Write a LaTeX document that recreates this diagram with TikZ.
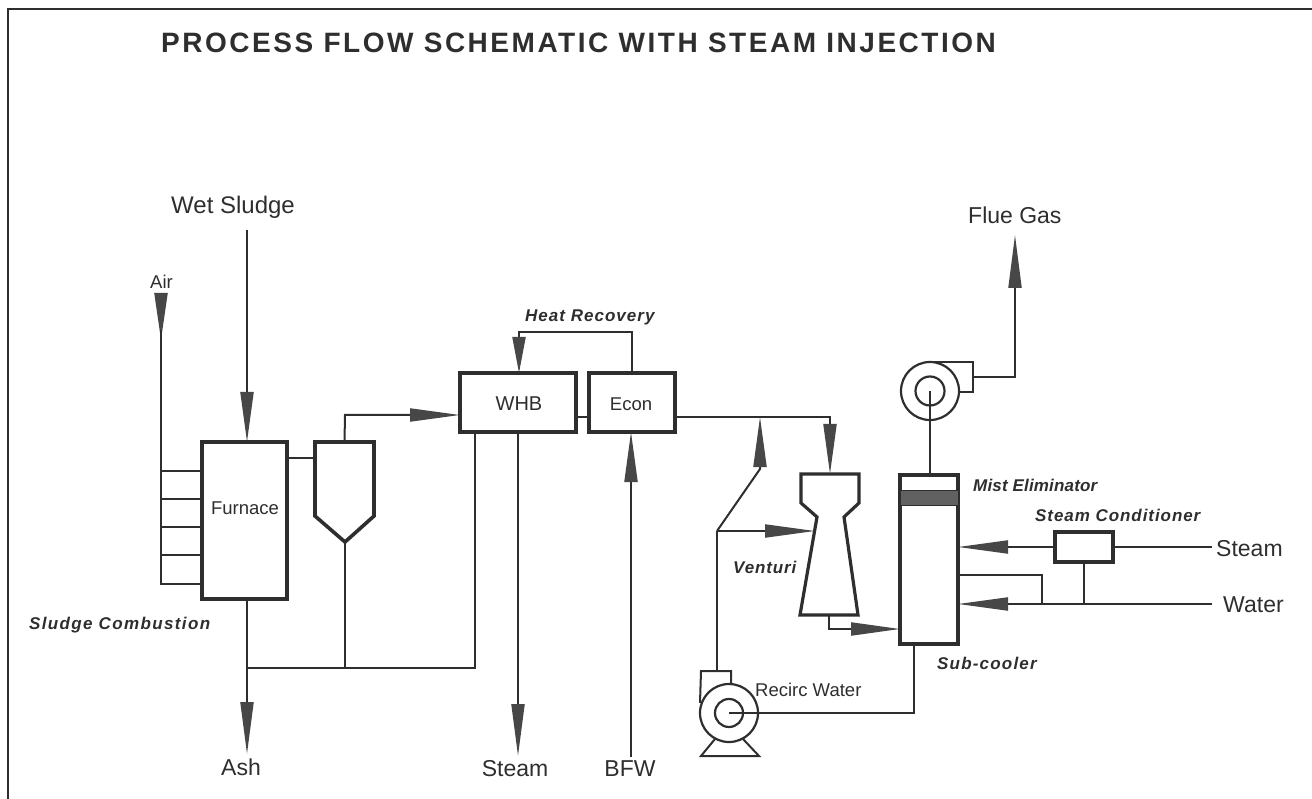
\documentclass[tikz,border=0pt]{standalone}
\usepackage{fontspec}
\setmainfont{Liberation Sans}
\usetikzlibrary{arrows.meta,calc}
\definecolor{ink}{gray}{0.18}
\definecolor{headfill}{gray}{0.28}
\definecolor{bandfill}{gray}{0.38}
\tikzset{
  x=1pt,y=-1pt,
  pipe/.style={draw=ink,line width=2pt,line join=miter},
  vessel/.style={draw=ink,line width=3.6pt,fill=white,line join=miter,outer sep=0pt,inner sep=0pt},
  ring/.style={draw=ink,line width=2.2pt,circle,outer sep=0pt,inner sep=0pt,minimum size=#1},
  head/.style={-{Triangle[length=#1,width=13pt,color=headfill,fill=headfill]}},
  head/.default=50pt,
  biglabel/.style={inner sep=0pt,text=ink,font=\fontsize{23}{25}\selectfont},
  midlabel/.style={inner sep=0pt,text=ink,font=\fontsize{18.5}{20}\selectfont},
  slant/.style={inner sep=0pt,text=ink,font=\fontsize{17}{20}\selectfont\bfseries\itshape\addfontfeature{LetterSpace=#1}},
  slant/.default=3,
}
\begin{document}
\begin{tikzpicture}
\useasboundingbox (0,0) rectangle (1312,799);
% frame
\draw[draw=ink,line width=1.2pt] (8,799) -- (8,9) -- (1312,9);
% title
\node[inner sep=0pt,text=ink,anchor=west,font=\fontsize{28}{30}\selectfont\bfseries\addfontfeature{LetterSpace=9}] (title) at (161,43) {PROCESS FLOW SCHEMATIC WITH STEAM INJECTION};
% equipment
\node[vessel,minimum width=85pt,minimum height=157pt] (furnace) at (244.5,520.5) {};
\node[vessel,minimum width=116pt,minimum height=59pt] (whb) at (518,402.5) {};
\node[vessel,minimum width=86pt,minimum height=59pt] (econ) at (632,402.5) {};
\node[vessel,minimum width=58pt,minimum height=169pt] (column) at (929,559.5) {};
\node[vessel,minimum width=58pt,minimum height=30pt] (cond) at (1084,547) {};
\fill[bandfill,draw=ink,line width=1pt] (column.west |- 0,490) rectangle (column.east |- 0,505);
% cyclone and venturi
\coordinate (cycTL) at (315,442);
\coordinate (cycTR) at (374,442);
\coordinate (cycApex) at (345,542);
\draw[vessel] (cycTL) -- (cycTR) -- (374,516) -- (cycApex) -- (315,516) -- cycle;
\coordinate (venTop) at (830,474);
\coordinate (venBot) at (829,615);
\draw[vessel,line width=3.2pt] (801,474) -- (859,474) -- (859,503) -- (844,517) -- (858,615) -- (800,615) -- (817,517) -- (801,503) -- cycle;
% fan and pump
\node[ring=58pt] (fan) at (930,391) {};
\node[ring=29pt] (fanin) at (930,391) {};
\node[ring=58pt] (pump) at (729,713) {};
\node[ring=28pt] (pumpin) at (729,713) {};
\draw[pipe] (fan.north) -- (973,362) -- (973,392) -- (fan.east |- 0,392);
\draw[pipe] (pump.west |- 0,703) -- (701,671) -- (731,671) -- (731,685);
\draw[pipe] (715,739) -- (701,756) -- (759,756) -- (743,739);
% labels
\node[biglabel,anchor=west,font=\fontsize{24}{26}\selectfont] (lwet) at (171,207) {Wet Sludge};
\node[midlabel,anchor=west] (lair) at (150,282) {Air};
\node[biglabel,anchor=west] (lflue) at (968,215) {Flue Gas};
\node[slant=6,anchor=west] (lheat) at (525,317) {Heat Recovery};
\node[midlabel] (lfurn) at (245,508) {Furnace};
\node[midlabel,font=\fontsize{20}{22}\selectfont] (lwhb) at (519,404) {WHB};
\node[midlabel] (lecon) at (631,404) {Econ};
\node[slant=1,anchor=west] (lmist) at (973,485) {Mist Eliminator};
\node[slant=5.5,anchor=west] (lcond) at (1035,515) {Steam Conditioner};
\node[biglabel,anchor=west] (lsteamr) at (1216,549) {Steam};
\node[biglabel,anchor=west] (lwater) at (1223,605) {Water};
\node[slant=5,anchor=west] (lvent) at (733,567) {Venturi};
\node[slant=8,anchor=west] (lsludge) at (29,625) {Sludge Combustion};
\node[slant=7,anchor=west] (lsub) at (937,663) {Sub-cooler};
\node[midlabel,anchor=west] (lrecirc) at (755,690) {Recirc Water};
\node[biglabel] (lash) at (241,767) {Ash};
\node[biglabel] (lsteam) at (515,769) {Steam};
\node[biglabel] (lbfw) at (630,769) {BFW};
% free ends
\coordinate (wetTop) at (247,230);
\coordinate (airTop) at (161,293);
\coordinate (airTip) at (161,340);
\coordinate (airJoin) at (161,330);
\coordinate (airBot) at (161,584);
\coordinate (ashEnd) at (247,754);
\coordinate (steamEnd) at (518,756);
\coordinate (bfwStart) at (631,757);
\coordinate (collL) at (247,668);
\coordinate (collR) at (475,668);
\coordinate (jet) at (760,417);
\coordinate (split) at (717,531);
\coordinate (flueTip) at (1015,235);
\coordinate (wJoin) at (1084,604);
\coordinate (wBranch) at (1042,604);
\coordinate (waterEnd) at (1212,604);
\coordinate (steamStart) at (1212,547);
% connectors
\draw[pipe,head] (wetTop) -- (wetTop |- furnace.north);
\draw[pipe,head=47pt] (airTop) -- (airTip);
\draw[pipe] (airJoin) -- (airBot) -- (airBot -| furnace.west);
\foreach \ry in {471,499,527,555}{\draw[pipe] (airJoin |- 0,\ry) -- (furnace.west |- 0,\ry);}
\draw[pipe] (furnace.east |- 0,458) -- (cycTL |- 0,458);
\draw[pipe,head] ($(cycTL)!0.5!(cycTR)$) -- (345,415) -- (whb.west |- 0,415);
\draw[pipe] (cycApex) -- (cycApex |- collL);
\draw[pipe,head=52pt] (247,599) -- (ashEnd);
\draw[pipe] (collL) -- (collR) -- (collR |- whb.south);
\draw[pipe,head=52pt] (steamEnd |- whb.south) -- (steamEnd);
\draw[pipe,head=50pt] (bfwStart) -- (bfwStart |- econ.south);
\draw[pipe] (whb.east |- 0,417) -- (econ.west |- 0,417);
\draw[pipe,head=36pt] (econ.north) -- (632,332) -- (519,332) -- (519,373);
\draw[pipe,head=50pt] (econ.east |- 0,417) -- (830,417) -- (venTop);
\draw[pipe] (split) -- (split |- 0,671);
\draw[pipe,head=50pt] (split) -- (760,469) -- (jet);
\draw[pipe,head=50pt] (split) -- (815,531);
\draw[pipe,head=49pt] (venBot) -- (829,629) -- (column.west |- 0,629);
\draw[pipe] (pump.center) -- (914,713) -- (914,644);
\draw[pipe] (fan.center) -- (930,475);
\draw[pipe] (973,377) -- (1015,377) -- (1015,280);
\draw[pipe,head=53pt] (1015,288) -- (flueTip);
\draw[pipe,head=50pt] (cond.west) -- (column.east |- cond.west);
\draw[pipe] (cond.east) -- (steamStart);
\draw[pipe,head=50pt] (waterEnd) -- (column.east |- waterEnd);
\draw[pipe] (cond.south) -- (wJoin);
\draw[pipe] (wBranch) -- (1042,575) -- (column.east |- 0,575);
\end{tikzpicture}
\end{document}
